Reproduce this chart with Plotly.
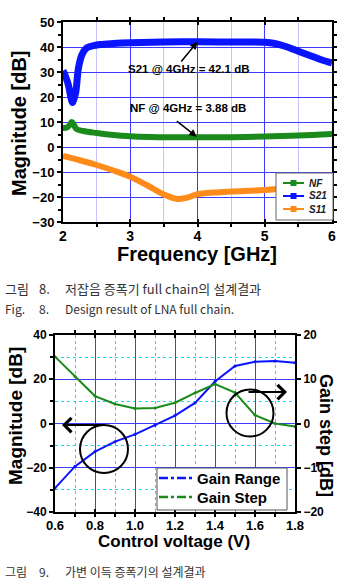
import plotly.graph_objects as go

W, H = 337, 579

# ---------------- Chart 1 data (Fig. 8) ----------------
s21_freq = [2.0, 2.03, 2.08, 2.12, 2.14, 2.16, 2.19, 2.23, 2.28, 2.35, 2.43, 2.55, 2.75, 3.0, 3.5, 4.0, 4.5, 5.0, 5.15, 5.3, 5.5, 5.7, 5.85, 6.0]
s21_db = [30.5, 28.8, 24.8, 19.5, 17.8, 19.0, 22.0, 31.6, 36.8, 39.6, 40.4, 41.0, 41.4, 41.7, 42.0, 42.1, 42.0, 41.9, 41.4, 40.3, 38.3, 36.3, 34.8, 33.6]

nf_freq = [2.0, 2.06, 2.1, 2.13, 2.16, 2.2, 2.3, 2.5, 2.75, 3.0, 3.3, 3.6, 4.0, 4.5, 5.0, 5.5, 6.0]
nf_db = [7.6, 7.8, 8.8, 10.0, 9.0, 7.2, 6.4, 5.6, 4.8, 4.3, 4.0, 3.9, 3.88, 3.95, 4.2, 4.6, 5.2]

s11_freq = [2.0, 2.25, 2.5, 2.75, 3.0, 3.25, 3.5, 3.7, 3.85, 4.0, 4.25, 4.5, 5.0, 5.25, 5.5, 5.75, 6.0]
s11_db = [-3.6, -5.3, -7.2, -9.4, -11.9, -15.3, -19.0, -20.8, -20.2, -18.9, -18.2, -17.8, -17.2, -16.6, -15.5, -13.8, -12.0]

legend1_names = ["NF", "S21", "S11"]

# ---------------- Chart 2 data (Fig. 9) ----------------
ctrl_v = [0.6, 0.7, 0.8, 0.9, 1.0, 1.1, 1.2, 1.3, 1.4, 1.5, 1.6, 1.7, 1.8]
gain_range = [-29.2, -19.4, -12.7, -8.2, -4.9, -0.8, 3.6, 9.3, 19.0, 26.0, 27.9, 28.2, 27.5]
gain_step = [15.1, 10.6, 6.2, 4.4, 3.4, 3.5, 4.7, 6.9, 8.9, 7.0, 1.9, 0.0, -0.7]

legend2_names = ["Gain Range", "Gain Step"]

C_BLUE = "#0a14ff"
C_GREEN = "#1a8a1a"
C_ORANGE = "#ff8c1a"
GRID_BLUE = "#3c3cff"
FONT = "Liberation Sans, Arial, sans-serif"
KFONT = "Noto Sans CJK KR, sans-serif"


def px(p):
    return p / W


def py(p):
    return 1 - p / H


fig = go.Figure()

# Chart 1 traces
fig.add_trace(go.Scatter(x=s11_freq, y=s11_db, mode="lines", name="S11", line=dict(color=C_ORANGE, width=6, shape="spline"),
                         showlegend=False, xaxis="x", yaxis="y"))
fig.add_trace(go.Scatter(x=nf_freq, y=nf_db, mode="lines", name="NF", line=dict(color=C_GREEN, width=6, shape="spline"),
                         showlegend=False, xaxis="x", yaxis="y"))
fig.add_trace(go.Scatter(x=s21_freq, y=s21_db, mode="lines", name="S21", line=dict(color=C_BLUE, width=7, shape="spline"),
                         showlegend=False, xaxis="x", yaxis="y"))

# Chart 2 traces
fig.add_trace(go.Scatter(x=ctrl_v, y=gain_range, mode="lines+markers", name="Gain Range", line=dict(color=C_BLUE, width=2),
                         marker=dict(size=3, color=C_BLUE), showlegend=False, xaxis="x2", yaxis="y2"))
fig.add_trace(go.Scatter(x=ctrl_v, y=gain_step, mode="lines+markers", name="Gain Step", line=dict(color=C_GREEN, width=2),
                         marker=dict(size=3, color=C_GREEN), showlegend=False, xaxis="x2", yaxis="y3"))

axis_common = dict(showline=True, linecolor="black", linewidth=2, mirror="ticks", ticks="outside",
                   tickcolor="black", ticklen=4, tickwidth=1.5, zeroline=False, automargin=False)

fig.update_layout(
    width=W, height=H, margin=dict(l=0, r=0, t=0, b=0, pad=0, autoexpand=False),
    paper_bgcolor="white", plot_bgcolor="white",
    font=dict(family=FONT, color="black"),
    showlegend=False,
    xaxis=dict(domain=[px(63), px(332)], range=[2, 6], dtick=1, anchor="y",
               showgrid=True, gridcolor=GRID_BLUE, gridwidth=1,
               tickfont=dict(size=14, weight="bold", family=FONT),
               minor=dict(dtick=0.5, showgrid=True, gridcolor="#c4c4ff", ticks="outside", ticklen=3),
               **{**axis_common, "ticks": "inside", "ticklen": 3}),
    yaxis=dict(domain=[py(222), py(22)], range=[-30, 50], dtick=10, anchor="x",
               showgrid=True, gridcolor=GRID_BLUE, gridwidth=1,
               tickfont=dict(size=13, weight="bold", family=FONT),
               minor=dict(dtick=5, ticks="outside", ticklen=3, showgrid=False),
               **axis_common),
    xaxis2=dict(domain=[px(55), px(295)], range=[0.6, 1.8], dtick=0.2, tickformat=".1f", anchor="y2",
                showgrid=True, gridcolor=GRID_BLUE, gridwidth=1,
                tickfont=dict(size=13, weight="bold", family=FONT),
                minor=dict(dtick=0.1, showgrid=True, gridcolor="#00e0ff", griddash="dot", ticks="outside", ticklen=3),
                **{**axis_common, "ticks": "inside", "ticklen": 3}),
    yaxis2=dict(domain=[py(512), py(335)], range=[-40, 40], dtick=20, anchor="x2",
                showgrid=True, gridcolor=GRID_BLUE, gridwidth=1,
                tickfont=dict(size=12, weight="bold", family=FONT),
                minor=dict(dtick=10, showgrid=True, gridcolor="#00e0ff", griddash="dot", ticks="outside", ticklen=3),
                showline=True, linecolor="black", linewidth=2, ticks="outside", tickcolor="black",
                ticklen=4, tickwidth=1.5, zeroline=False, automargin=False),
    yaxis3=dict(domain=[py(512), py(335)], range=[-20, 20], dtick=10, anchor="x2", overlaying="y2", side="right",
                showgrid=False, tickfont=dict(size=12, weight="bold", family=FONT),
                showline=True, linecolor="black", linewidth=2, ticks="outside", tickcolor="black",
                ticklen=4, tickwidth=1.5, zeroline=False, automargin=False),
)

annotations = []
shapes = []
C = dict(xanchor="center", yanchor="middle")
# Chart 1 axis titles
annotations.append(dict(text="<b>Magnitude [dB]</b>", x=px(19), y=py(123), xref="paper", yref="paper",
                        showarrow=False, textangle=-90, font=dict(size=20, family=FONT), **C))
annotations.append(dict(text="<b>Frequency [GHz]</b>", x=px(197), y=py(254), xref="paper", yref="paper",
                        showarrow=False, font=dict(size=20, family=FONT), **C))
# Chart 1 callouts
annotations.append(dict(text="<b>S21 @ 4GHz = 42.1 dB</b>", x=3.86, y=31.2, xref="x", yref="y", showarrow=False,
                        font=dict(size=11.5, family=FONT), **C))
annotations.append(dict(text="", x=4.0, y=42.1, xref="x", yref="y", ax=3.74, ay=33.6, axref="x", ayref="y",
                        showarrow=True, arrowhead=2, arrowsize=1, arrowwidth=1.5, arrowcolor="black"))
annotations.append(dict(text="<b>NF @ 4GHz = 3.88 dB</b>", x=3.86, y=15.6, xref="x", yref="y", showarrow=False,
                        font=dict(size=11.5, family=FONT), **C))
annotations.append(dict(text="", x=3.99, y=4.1, xref="x", yref="y", ax=3.67, ay=10.8, axref="x", ayref="y",
                        showarrow=True, arrowhead=2, arrowsize=1, arrowwidth=1.5, arrowcolor="black"))

# Chart 1 legend box (compact, like the original)
shapes.append(dict(type="rect", xref="paper", yref="paper", x0=px(276), x1=px(333), y0=py(220), y1=py(173),
                   fillcolor="white", line=dict(color="#666666", width=1), layer="above"))
for name, col, yy in zip(legend1_names, [C_GREEN, C_BLUE, C_ORANGE], [183, 196, 209]):
    shapes.append(dict(type="line", xref="paper", yref="paper", x0=px(283), x1=px(304), y0=py(yy), y1=py(yy),
                       line=dict(color=col, width=2), layer="above"))
    shapes.append(dict(type="rect", xref="paper", yref="paper", x0=px(290.5), x1=px(296.5), y0=py(yy + 3), y1=py(yy - 3),
                       fillcolor=col, line=dict(color=col, width=0), layer="above"))
    annotations.append(dict(text="<b><i>" + name + "</i></b>", x=px(307), y=py(yy), xref="paper", yref="paper",
                            xanchor="left", yanchor="middle", showarrow=False,
                            font=dict(size=10, family=FONT, color="#222222")))

# Chart 2 legend box
shapes.append(dict(type="rect", xref="paper", yref="paper", x0=px(157), x1=px(287), y0=py(510), y1=py(468),
                   fillcolor="white", line=dict(color="#555555", width=1), layer="above"))
for name, col, yy in zip(legend2_names, [C_BLUE, C_GREEN], [478, 497]):
    shapes.append(dict(type="line", xref="paper", yref="paper", x0=px(159), x1=px(192), y0=py(yy), y1=py(yy),
                       line=dict(color=col, width=2.5, dash="dashdot"), layer="above"))
    annotations.append(dict(text="<b>" + name + "</b>", x=px(195), y=py(yy), xref="paper", yref="paper",
                            xanchor="left", yanchor="middle", showarrow=False,
                            font=dict(size=15, family=FONT, color="black")))

# Captions
for yy, size, parts in [(288, 13, ["그림", "8.", "저잡음 증폭기 full chain의 설계결과"]),
                        (308, 12, ["Fig.", "8.", "Design result of LNA full chain."]),
                        (571, 12, ["그림", "9.", "가변 이득 증폭기의 설계결과"])]:
    for xx, t in zip([3, 37, 63], parts):
        annotations.append(dict(text=t, x=px(xx), y=py(yy), xref="paper", yref="paper", xanchor="left",
                                yanchor="middle", showarrow=False,
                                font=dict(size=size, family=KFONT, color="#333333")))

# Chart 2 axis titles
annotations.append(dict(text="<b>Magnitude [dB]</b>", x=px(15), y=py(416), xref="paper", yref="paper",
                        showarrow=False, textangle=-90, font=dict(size=19, family=FONT), **C))
annotations.append(dict(text="<b>Gain step [dB]</b>", x=px(326), y=py(435), xref="paper", yref="paper",
                        showarrow=False, textangle=90, font=dict(size=18, family=FONT), **C))
annotations.append(dict(text="<b>Control voltage (V)</b>", x=px(174), y=py(541), xref="paper", yref="paper",
                        showarrow=False, font=dict(size=17, family=FONT), **C))
# Chart 2 arrows
annotations.append(dict(text="", x=0.635, y=-0.7, xref="x2", yref="y2", ax=0.85, ay=-0.7, axref="x2", ayref="y2",
                        showarrow=True, arrowhead=4, arrowsize=1.4, arrowwidth=2, arrowcolor="black"))
annotations.append(dict(text="", x=1.76, y=14.2, xref="x2", yref="y2", ax=1.56, ay=14.2, axref="x2", ayref="y2",
                        showarrow=True, arrowhead=4, arrowsize=1.4, arrowwidth=2, arrowcolor="black"))

shapes += [
    dict(type="circle", xref="x2", yref="y2", x0=0.725, x1=0.965, y0=-22.4, y1=-0.7,
         line=dict(color="black", width=2)),
    dict(type="circle", xref="x2", yref="y2", x0=1.4575, x1=1.6925, y0=-5.9, y1=15.4,
         line=dict(color="black", width=2)),
]

fig.update_layout(annotations=annotations, shapes=shapes)

fig.write_html("out.html")
